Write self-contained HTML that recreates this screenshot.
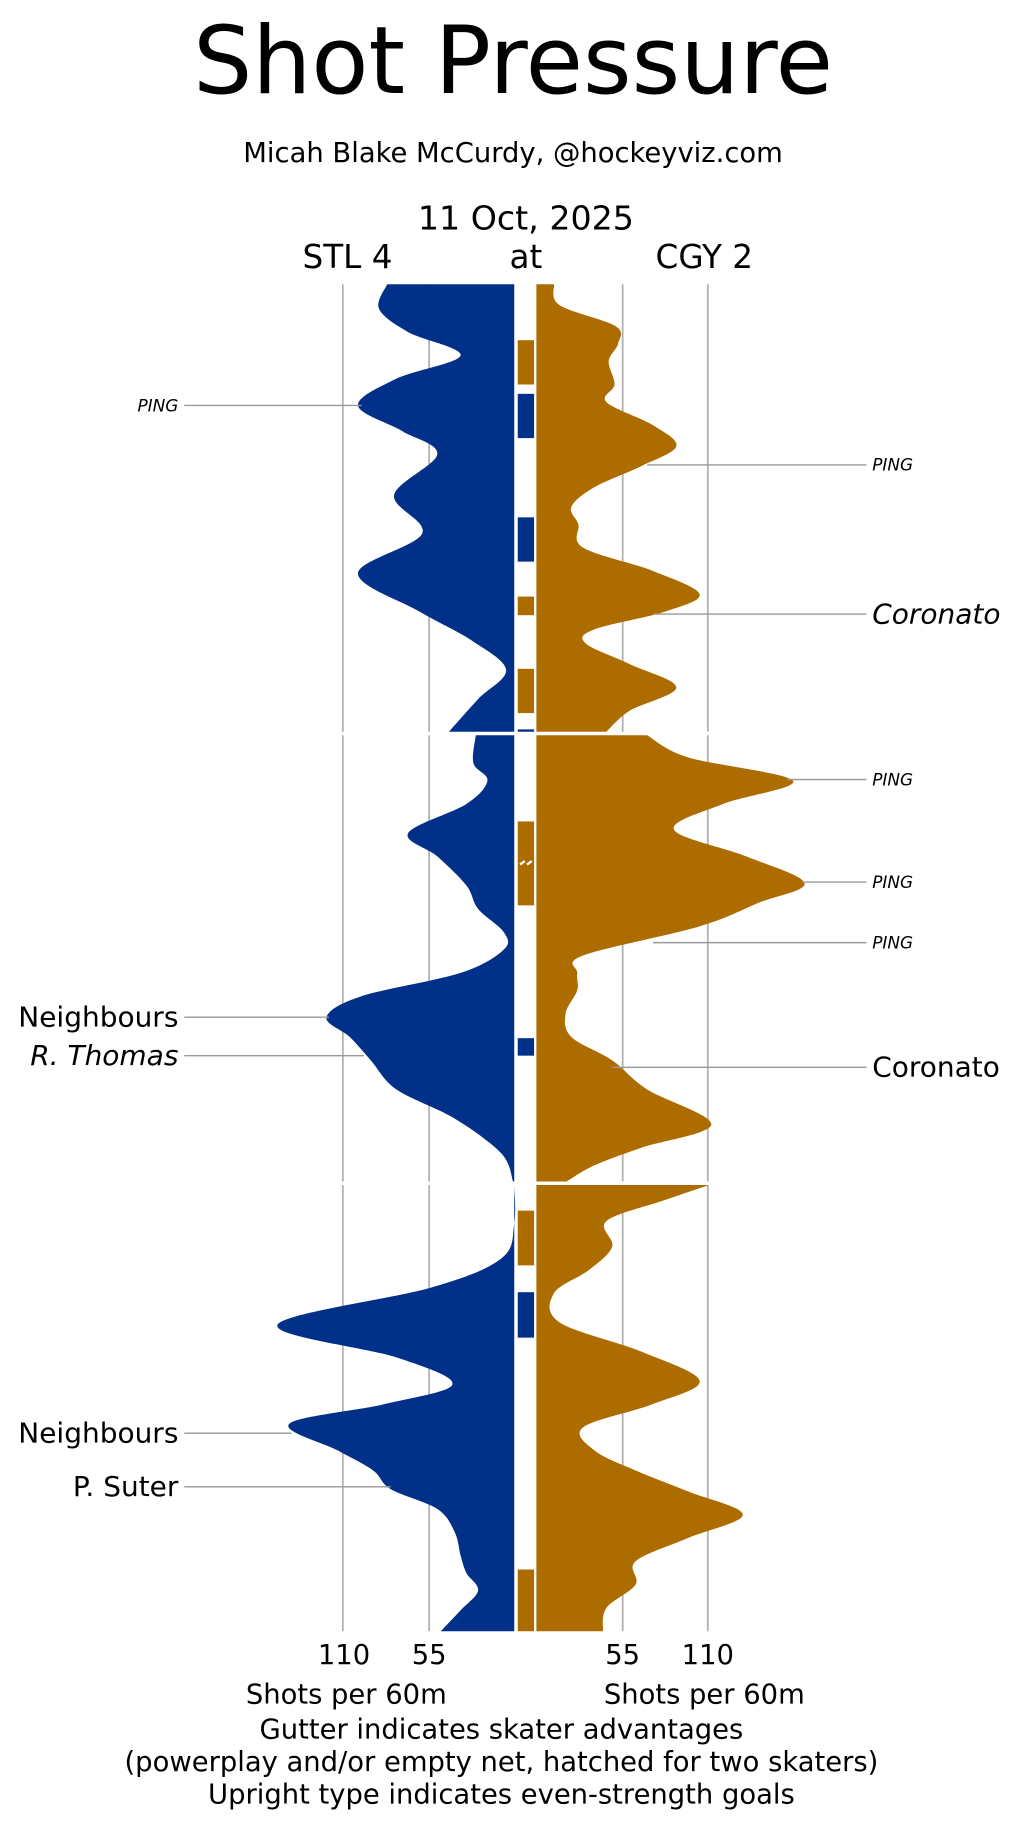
<!DOCTYPE html>
<html><head><meta charset="utf-8">
<style>
html,body{margin:0;padding:0;background:#fff;}
svg{display:block;}
text{font-family:"DejaVu Sans","Liberation Sans",sans-serif;fill:#000;}
</style></head>
<body>
<svg id="s" width="1018" height="1827" viewBox="0 0 873 1568" preserveAspectRatio="none" xmlns="http://www.w3.org/2000/svg">
<text x="440" y="80" font-size="80" text-anchor="middle">Shot Pressure</text>
<text x="440" y="139" font-size="23.5" text-anchor="middle">Micah Blake McCurdy, @hockeyviz.com</text>
<text x="451" y="197" font-size="28.5" text-anchor="middle">11 Oct, 2025</text>
<text x="298" y="230" font-size="28" text-anchor="middle">STL 4</text>
<text x="451" y="230" font-size="28" text-anchor="middle">at</text>
<text x="604" y="230" font-size="28" text-anchor="middle">CGY 2</text>
<g stroke="#b0b0b0" stroke-width="1.5">
<line x1="294" y1="244" x2="294" y2="628"/><line x1="368" y1="244" x2="368" y2="628"/><line x1="534" y1="244" x2="534" y2="628"/><line x1="607" y1="244" x2="607" y2="628"/>
<line x1="294" y1="631" x2="294" y2="1014"/><line x1="368" y1="631" x2="368" y2="1014"/><line x1="534" y1="631" x2="534" y2="1014"/><line x1="607" y1="631" x2="607" y2="1014"/>
<line x1="294" y1="1017" x2="294" y2="1400"/><line x1="368" y1="1017" x2="368" y2="1400"/><line x1="534" y1="1017" x2="534" y2="1400"/><line x1="607" y1="1017" x2="607" y2="1400"/>
</g>
<g id="shapes"></g>
<g fill="#ad6c00">
<rect x="444" y="292" width="14" height="38"/><rect x="444" y="512" width="14" height="16"/><rect x="444" y="574" width="14" height="38"/>
<rect x="444" y="705" width="14" height="72"/>
<rect x="444" y="1039" width="14" height="47"/><rect x="444" y="1347" width="14" height="53"/>
</g>
<g fill="#003087">
<rect x="444" y="338" width="14" height="38"/><rect x="444" y="444" width="14" height="38"/><rect x="444" y="626" width="14" height="2"/>
<rect x="444" y="891" width="14" height="15"/><rect x="444" y="1109" width="14" height="39"/>
</g>
<g stroke="#fff" stroke-width="2"><line x1="446" y1="742" x2="450" y2="739"/><line x1="452" y1="742" x2="456" y2="739"/></g>
<g stroke="#999" stroke-width="1.2">
<line x1="158" y1="348" x2="310" y2="348"/>
<line x1="555" y1="399" x2="743" y2="399"/>
<line x1="560" y1="527" x2="743" y2="527"/>
<line x1="675" y1="669" x2="743" y2="669"/>
<line x1="688" y1="757" x2="743" y2="757"/>
<line x1="560" y1="809" x2="743" y2="809"/>
<line x1="158" y1="873" x2="282" y2="873"/>
<line x1="158" y1="906" x2="312" y2="906"/>
<line x1="525" y1="916" x2="743" y2="916"/>
<line x1="158" y1="1230" x2="250" y2="1230"/>
<line x1="158" y1="1276" x2="335" y2="1276"/>
</g>
<g font-size="14.5" font-style="italic">
<text x="153" y="353" text-anchor="end">PING</text>
<text x="748" y="404">PING</text>
<text x="748" y="674">PING</text>
<text x="748" y="762">PING</text>
<text x="748" y="814">PING</text>
</g>
<g font-size="24">
<text x="748" y="535" font-style="italic">Coronato</text>
<text x="153" y="881" text-anchor="end">Neighbours</text>
<text x="153" y="914" text-anchor="end" font-style="italic">R. Thomas</text>
<text x="748" y="924">Coronato</text>
<text x="153" y="1238" text-anchor="end">Neighbours</text>
<text x="153" y="1284" text-anchor="end">P. Suter</text>
</g>
<g font-size="23.5" text-anchor="middle">
<text x="295" y="1428">110</text><text x="368" y="1428">55</text><text x="534" y="1428">55</text><text x="607" y="1428">110</text>
<text x="297" y="1462">Shots per 60m</text><text x="604" y="1462">Shots per 60m</text>
<text x="430" y="1492">Gutter indicates skater advantages</text>
<text x="430" y="1520">(powerplay and/or empty net, hatched for two skaters)</text>
<text x="430" y="1548">Upright type indicates even-strength goals</text>
</g>
</svg>
<script>
var B="#003087",O="#ad6c00";
var data=[
 [B,441,[[244,332],[265,325],[285,350],[305,395],[325,340],[348,307],[370,345],[390,375],[425,338],[458,362],[492,307],[525,360],[550,405],[575,434],[600,410],[628,385]]],
 [O,460,[[244,475],[262,480],[280,528],[295,530],[310,522],[330,527],[345,520],[365,560],[383,580],[400,550],[418,510],[435,490],[450,496],[470,500],[490,560],[510,600],[525,570],[540,510],[552,502],[570,540],[590,580],[610,540],[628,520]]],
 [B,441,[[631,408],[655,406],[670,418],[690,400],[715,350],[735,375],[760,400],[780,410],[800,432],[815,432],[835,395],[855,310],[873,280],[890,300],[910,318],[935,340],[960,390],[990,430],[1014,440]]],
 [O,460,[[631,555],[650,590],[670,680],[690,620],[712,578],[735,640],[758,690],[775,650],[795,600],[820,500],[835,495],[850,495],[870,485],[890,490],[910,525],[935,555],[965,610],[985,550],[1000,510],[1014,486]]],
 [B,441,[[1017,441],[1050,441],[1080,430],[1105,370],[1137,238],[1165,340],[1188,388],[1205,330],[1222,248],[1245,290],[1262,320],[1278,335],[1295,375],[1315,390],[1335,395],[1350,400],[1365,410],[1382,395],[1400,378]]],
 [O,460,[[1017,608],[1030,570],[1048,520],[1070,525],[1090,505],[1110,475],[1135,480],[1160,550],[1185,600],[1205,560],[1225,500],[1245,510],[1262,545],[1280,590],[1300,637],[1320,590],[1340,545],[1360,545],[1380,520],[1400,517]]]
];
function cr(p){var d="M"+p[0][1]+","+p[0][0];for(var i=0;i<p.length-1;i++){var a=p[i-1]||p[i],b=p[i],c=p[i+1],e=p[i+2]||c;
var c1x=b[1]+(c[1]-a[1])/6,c1y=b[0]+(c[0]-a[0])/6,c2x=c[1]-(e[1]-b[1])/6,c2y=c[0]-(e[0]-b[0])/6;
d+=" C"+c1x+","+c1y+" "+c2x+","+c2y+" "+c[1]+","+c[0];}return d;}
var g=document.getElementById("shapes"),h="";
data.forEach(function(s){var p=s[2],y0=p[0][0],y1=p[p.length-1][0];
h+='<path fill="'+s[0]+'" d="'+cr(p)+' L'+s[1]+','+y1+' L'+s[1]+','+y0+' Z"/>';});
g.innerHTML=h;
</script>
</body></html>
